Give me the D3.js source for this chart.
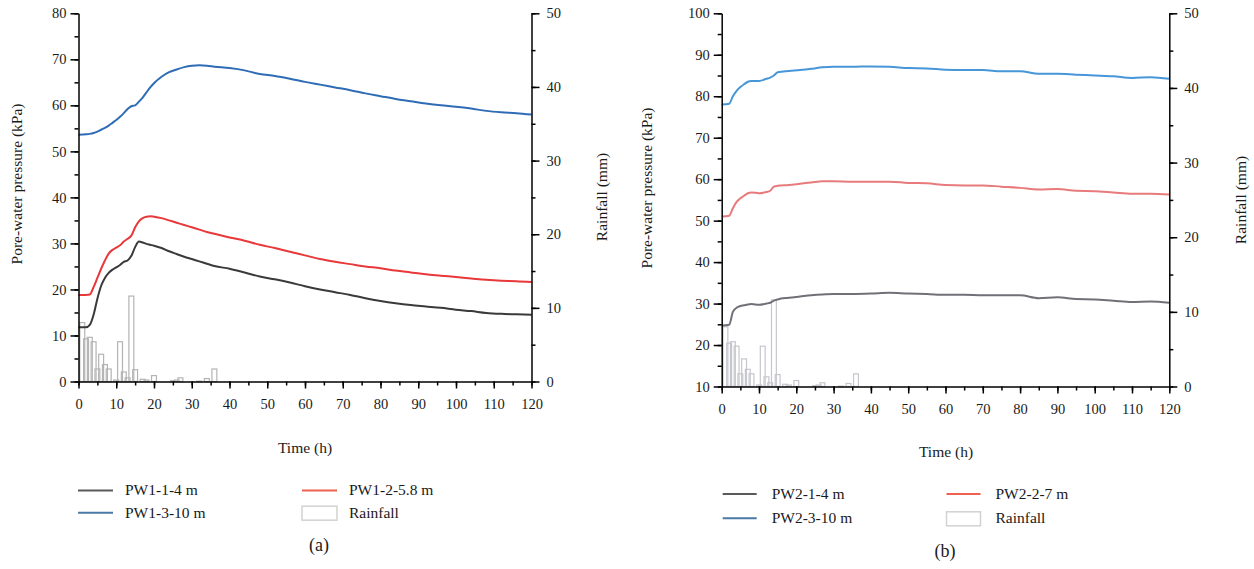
<!DOCTYPE html>
<html>
<head>
<meta charset="utf-8">
<script src="https://cdn.jsdelivr.net/npm/d3@7"></script>
<style>
  html, body { margin: 0; padding: 0; background: #fff; }
</style>
</head>
<body>
<script>
// ---------- Data ----------
const timeTicks = [0, 10, 20, 30, 40, 50, 60, 70, 80, 90, 100, 110, 120];
const pressureTicksA = [0, 10, 20, 30, 40, 50, 60, 70, 80];
const pressureTicksB = [10, 20, 30, 40, 50, 60, 70, 80, 90, 100];
const rainTicks = [0, 10, 20, 30, 40, 50];

// Rainfall (mm), hourly
const rainHours  = [1, 2, 3, 4, 5, 6, 7, 8, 10, 11, 12, 13, 14, 15, 17, 18, 20, 25, 26, 27, 32, 34, 36];
const rainValues = [8.0, 5.8, 6.0, 5.4, 1.7, 3.7, 2.3, 1.7, 0.2, 5.4, 1.3, 0.5, 11.6, 1.6, 0.3, 0.2, 0.8, 0.1, 0.2, 0.5, 0.05, 0.4, 1.7];

// Panel (a) time samples (h)
const timesA = [0, 2, 3, 4, 5, 6, 7, 8, 9, 10, 11, 12, 13, 14, 15, 16, 17, 18, 19, 20,
  22, 24, 26, 28, 30, 32, 34, 36,
  40, 44, 48, 52, 56, 60, 64, 68, 72, 76, 80, 84, 88, 92, 96, 100, 104, 108, 112, 116, 120];
const pw1_1 = [11.8, 11.8, 12.3, 14.5, 18.0, 20.8, 22.5, 23.6, 24.3, 24.8, 25.3, 26.0, 26.3, 27.3, 29.2, 30.4, 30.2, 29.9, 29.7, 29.5,
  29.0, 28.3, 27.7, 27.1, 26.6, 26.1, 25.6, 25.1,
  24.5, 23.7, 22.8, 22.2, 21.5, 20.7, 20.0, 19.4, 18.8, 18.1, 17.5, 17.0, 16.6, 16.3, 16.0, 15.6, 15.3, 14.9, 14.7, 14.6, 14.5];
const pw1_2 = [18.8, 18.8, 18.9, 20.5, 22.5, 24.5, 26.3, 27.8, 28.6, 29.1, 29.6, 30.4, 31.0, 31.7, 33.5, 34.8, 35.5, 35.8, 35.9, 35.8,
  35.5, 35.0, 34.5, 34.0, 33.5, 33.0, 32.5, 32.1,
  31.3, 30.6, 29.7, 29.0, 28.2, 27.4, 26.6, 26.0, 25.5, 25.0, 24.6, 24.1, 23.7, 23.3, 23.0, 22.7, 22.4, 22.1, 21.9, 21.8, 21.6];
const pw1_3 = [53.6, 53.7, 53.8, 54.0, 54.3, 54.7, 55.1, 55.6, 56.2, 56.8, 57.5, 58.3, 59.2, 59.8, 60.0, 60.8, 61.7, 62.8, 63.9, 64.8,
  66.2, 67.2, 67.8, 68.3, 68.6, 68.7, 68.6, 68.4,
  68.1, 67.6, 66.8, 66.4, 65.8, 65.1, 64.5, 63.9, 63.3, 62.6, 62.0, 61.4, 60.9, 60.4, 60.0, 59.7, 59.3, 58.8, 58.5, 58.3, 58.0];

// Panel (b) time samples (h)
const timesB = [0, 2, 3, 4, 5, 6, 7, 8, 10, 12, 13, 14, 15, 18, 21, 24, 27, 30,
  35, 40, 45, 50, 55, 60, 65, 70, 75, 80, 85, 90, 95, 100, 105, 110, 115, 120];
const pw2_1 = [24.7, 24.9, 28.0, 29.0, 29.4, 29.6, 29.8, 29.9, 29.7, 30.0, 30.2, 30.7, 31.0, 31.4, 31.7, 32.0, 32.2, 32.3,
  32.3, 32.4, 32.6, 32.4, 32.3, 32.1, 32.1, 32.0, 32.0, 32.0, 31.3, 31.5, 31.1, 31.0, 30.7, 30.4, 30.5, 30.2];
const pw2_2 = [51.0, 51.2, 53.0, 54.5, 55.4, 56.0, 56.6, 56.8, 56.6, 56.9, 57.2, 58.2, 58.4, 58.6, 58.9, 59.2, 59.5, 59.5,
  59.4, 59.4, 59.4, 59.1, 59.0, 58.6, 58.5, 58.5, 58.2, 57.9, 57.5, 57.6, 57.2, 57.1, 56.8, 56.5, 56.5, 56.3];
const pw2_3 = [78.0, 78.2, 80.0, 81.3, 82.2, 82.9, 83.5, 83.7, 83.7, 84.2, 84.5, 85.0, 85.8, 86.1, 86.3, 86.6, 87.0, 87.1,
  87.1, 87.2, 87.1, 86.8, 86.7, 86.4, 86.3, 86.3, 86.0, 86.0, 85.4, 85.4, 85.2, 85.0, 84.8, 84.4, 84.6, 84.2];

const legendA = ["PW1-1-4 m", "PW1-2-5.8 m", "PW1-3-10 m", "Rainfall"];
const legendB = ["PW2-1-4 m", "PW2-2-7 m", "PW2-3-10 m", "Rainfall"];

// ---------- Drawing ----------
const FONT = "'Liberation Serif', 'DejaVu Serif', 'Times New Roman', serif";
const W = 1254, H = 569;
const svg = d3.select("body").append("svg").attr("width", W).attr("height", H)
  .style("font-family", FONT);

function range5(a, b) { const r = []; for (let v = a; v <= b + 1e-9; v += 5) r.push(v); return r; }

function txt(sel, size) {
  return sel.style("font-family", FONT).style("font-size", size).attr("fill", "#1a1a1a");
}

function panel(cfg) {
  const g = svg.append("g");
  const x = d3.scaleLinear().domain([0, 120]).range([cfg.x0, cfg.x1]);
  const y = d3.scaleLinear().domain(cfg.yDomain).range([cfg.yBot, cfg.yTop]);
  const yr = d3.scaleLinear().domain([0, 50]).range([cfg.yBot, cfg.yTop]);

  // rainfall bars
  const bw = x(1.3) - x(0);
  g.append("g").selectAll("rect")
    .data(rainHours.map((h, i) => ({ h, v: rainValues[i] })))
    .join("rect")
    .attr("x", d => Math.max(cfg.x0 + 0.8, x(d.h) - bw / 2))
    .attr("width", d => x(d.h) + bw / 2 - Math.max(cfg.x0 + 0.8, x(d.h) - bw / 2))
    .attr("y", d => yr(d.v))
    .attr("height", d => Math.max(0.6, yr(0) - yr(d.v)))
    .attr("fill", "none")
    .attr("stroke", cfg.barColor)
    .attr("stroke-width", 1.2);

  // lines
  const line = d3.line().x(d => x(d[0])).y(d => y(d[1])).curve(d3.curveMonotoneX);
  cfg.series.forEach(s => {
    g.append("path")
      .datum(cfg.times.map((t, i) => [t, s.values[i]]))
      .attr("d", line)
      .attr("fill", "none")
      .attr("stroke", s.color)
      .attr("stroke-width", 2);
  });

  const axStyle = sel => {
    sel.attr("font-family", null);
    sel.select(".domain").attr("stroke", "#000").attr("stroke-width", 1.5);
    sel.selectAll(".tick line").attr("stroke", "#000").attr("stroke-width", 1.5);
    txt(sel.selectAll("text"), "14.5px");
  };

  // Minor ticks
  g.append("g").attr("transform", `translate(${cfg.x0},0)`)
    .call(d3.axisLeft(y).tickValues(range5(cfg.yDomain[0], cfg.yDomain[1])).tickSize(4).tickFormat(""))
    .call(axStyle).select(".domain").remove();
  g.append("g").attr("transform", `translate(${cfg.x1},0)`)
    .call(d3.axisRight(yr).tickValues(range5(0, 50)).tickSize(4).tickFormat(""))
    .call(axStyle).select(".domain").remove();
  g.append("g").attr("transform", `translate(0,${cfg.yBot})`)
    .call(d3.axisBottom(x).tickValues(range5(0, 120)).tickSize(4).tickFormat(""))
    .call(axStyle).select(".domain").remove();

  // Major axes
  g.append("g").attr("transform", `translate(${cfg.x0},0)`)
    .call(d3.axisLeft(y).tickValues(cfg.yTicks).tickSize(8).tickSizeOuter(0).tickPadding(4))
    .call(axStyle);
  g.append("g").attr("transform", `translate(${cfg.x1},0)`)
    .call(d3.axisRight(yr).tickValues(rainTicks).tickSize(8).tickSizeOuter(0).tickPadding(7))
    .call(axStyle);
  g.append("g").attr("transform", `translate(0,${cfg.yBot})`)
    .call(d3.axisBottom(x).tickValues(timeTicks).tickSize(7).tickSizeOuter(0).tickPadding(10))
    .call(axStyle);

  // Axis titles
  txt(g.append("text").attr("transform", `translate(${cfg.yTitleX},${cfg.yTitleY}) rotate(-90)`)
    .attr("text-anchor", "middle").attr("dy", "0.35em"), "15.5px")
    .text("Pore-water pressure (kPa)");
  txt(g.append("text").attr("transform", `translate(${cfg.rTitleX},${cfg.rTitleY}) rotate(-90)`)
    .attr("text-anchor", "middle").attr("dy", "0.35em"), "15.5px")
    .text("Rainfall (mm)");
  txt(g.append("text").attr("x", cfg.xTitleX).attr("y", cfg.xTitleY)
    .attr("text-anchor", "middle"), "15.5px").text("Time (h)");

  // Legend
  const L = cfg.legend;
  const items = [
    { label: cfg.legendLabels[0], color: cfg.legendColors[0], col: 0, row: 0 },
    { label: cfg.legendLabels[1], color: cfg.legendColors[1], col: 1, row: 0 },
    { label: cfg.legendLabels[2], color: cfg.legendColors[2], col: 0, row: 1 },
    { label: cfg.legendLabels[3], color: null, col: 1, row: 1 }
  ];
  items.forEach(it => {
    const lx = L.cols[it.col], ly = L.rows[it.row];
    if (it.color) {
      g.append("line").attr("x1", lx).attr("x2", lx + L.sw).attr("y1", ly).attr("y2", ly)
        .attr("stroke", it.color).attr("stroke-width", 2);
    } else {
      g.append("rect").attr("x", lx).attr("y", ly - 6.5).attr("width", L.sw).attr("height", 14)
        .attr("fill", "#fff").attr("stroke", "#d2d2d2").attr("stroke-width", 1.5);
    }
    txt(g.append("text").attr("x", lx + L.tx).attr("y", ly + 4.8), "15.5px").text(it.label);
  });

  txt(g.append("text").attr("x", cfg.capX).attr("y", cfg.capY).attr("text-anchor", "middle"), "18px")
    .text(cfg.caption);
}

panel({
  x0: 78.5, x1: 531.5, yTop: 13.3, yBot: 381.5,
  yDomain: [0, 80], yTicks: pressureTicksA,
  times: timesA,
  series: [
    { values: pw1_1, color: "#3a3a3c" },
    { values: pw1_2, color: "#e8383a" },
    { values: pw1_3, color: "#2f6cb6" }
  ],
  barColor: "#b4b4b4",
  yTitleX: 17, yTitleY: 184,
  rTitleX: 602, rTitleY: 197,
  xTitleX: 305, xTitleY: 453,
  legend: { cols: [78, 302], rows: [490.5, 512.7], sw: 35, tx: 47 },
  legendLabels: legendA,
  legendColors: ["#5a5a5a", "#ee6050", "#4a79a6"],
  caption: "(a)", capX: 319, capY: 551
});

panel({
  x0: 721.7, x1: 1169.3, yTop: 13.3, yBot: 386.5,
  yDomain: [10, 100], yTicks: pressureTicksB,
  times: timesB,
  series: [
    { values: pw2_1, color: "#707078" },
    { values: pw2_2, color: "#e87a7c" },
    { values: pw2_3, color: "#4696d8" }
  ],
  barColor: "#c6c6ce",
  yTitleX: 647, yTitleY: 188,
  rTitleX: 1241, rTitleY: 200,
  xTitleX: 946, xTitleY: 457,
  legend: { cols: [722.7, 946.5], rows: [494, 518.3], sw: 34, tx: 49 },
  legendLabels: legendB,
  legendColors: ["#5a5a5a", "#ee6050", "#4a79a6"],
  caption: "(b)", capX: 945, capY: 557
});
</script>
</body>
</html>
